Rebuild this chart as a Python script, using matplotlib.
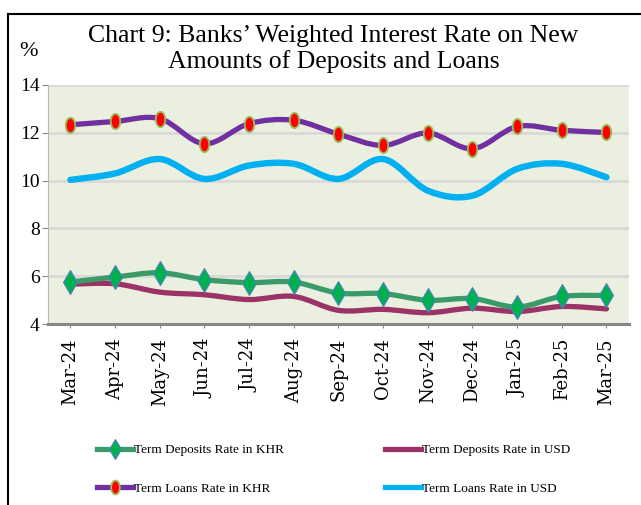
import numpy as np
import matplotlib
matplotlib.use('Agg')
import matplotlib.pyplot as plt
from matplotlib.path import Path
from matplotlib.patches import PathPatch
from matplotlib.lines import Line2D

plt.rcParams['font.family'] = ['Liberation Serif', 'DejaVu Serif']

months = ['Mar-24', 'Apr-24', 'May-24', 'Jun-24', 'Jul-24', 'Aug-24', 'Sep-24',
          'Oct-24', 'Nov-24', 'Dec-24', 'Jan-25', 'Feb-25', 'Mar-25']
dep_khr = [5.76, 5.97, 6.15, 5.86, 5.74, 5.76, 5.30, 5.28, 5.00, 5.07, 4.72, 5.16, 5.20]
dep_usd = [5.67, 5.69, 5.34, 5.23, 5.03, 5.16, 4.58, 4.62, 4.48, 4.67, 4.53, 4.74, 4.64]
loan_khr = [12.33, 12.47, 12.59, 11.54, 12.38, 12.52, 11.94, 11.47, 11.99, 11.33, 12.26, 12.10, 12.01]
loan_usd = [10.03, 10.30, 10.90, 10.07, 10.63, 10.70, 10.07, 10.90, 9.58, 9.37, 10.49, 10.70, 10.14]

C_DEP_KHR = '#3A9A68'
C_DEP_USD = '#9B3366'
C_LOAN_KHR = '#7030A0'
C_LOAN_USD = '#00B0F0'


def smooth_path(xs, ys):
    # Excel-like smoothed line: Catmull-Rom segments as cubic Bezier
    p = np.column_stack([xs, ys]).astype(float)
    ext = np.vstack([p[0], p, p[-1]])
    verts = [p[0]]
    codes = [Path.MOVETO]
    for i in range(len(p) - 1):
        p0, p1, p2, p3 = ext[i], ext[i + 1], ext[i + 2], ext[i + 3]
        c1 = p1 + (p2 - p0) / 6.0
        c2 = p2 - (p3 - p1) / 6.0
        verts += [c1, c2, p2]
        codes += [Path.CURVE4] * 3
    return Path(verts, codes)


fig = plt.figure(figsize=(6.41, 5.05), dpi=100)
ax = fig.add_axes([0.075, 0.358, 0.906, 0.474])
ax.set_facecolor('#EBEFDF')

x = np.arange(len(months))
series = [(loan_usd, C_LOAN_USD, 4.6), (loan_khr, C_LOAN_KHR, 3.8),
          (dep_usd, C_DEP_USD, 3.8), (dep_khr, C_DEP_KHR, 3.8)]
for ys, c, lw in series:
    ax.add_patch(PathPatch(smooth_path(x, ys), facecolor='none', edgecolor=c,
                           lw=lw, capstyle='round', joinstyle='round', zorder=3))

ellipse = Path(Path.unit_circle().vertices * np.array([0.62, 1.0]), Path.unit_circle().codes)
ax.plot(x, loan_khr, ls='none', marker=ellipse, ms=11, mfc='#FF0000',
        mec='#9BBB59', mew=1.3, zorder=4)
ax.plot(x, dep_khr, ls='none', marker='d', ms=12, mfc='#00B050',
        mec='#4F81BD', mew=0.8, zorder=4)

ax.set_xlim(-0.5, 12.5)
ax.set_ylim(4, 14)
ax.set_yticks([4, 6, 8, 10, 12, 14])
ax.set_xticks(x)
ax.set_xticklabels(months, rotation=90, fontsize=13, family='DejaVu Serif')
ax.tick_params(axis='y', labelsize=14, length=4, color='#888888', pad=2)
ax.tick_params(axis='x', length=3, color='#888888', pad=7)
ax.grid(axis='y', color='#D9D9D9', lw=2)
ax.set_axisbelow(True)
for s in ['top', 'right']:
    ax.spines[s].set_visible(False)
ax.spines['left'].set_color('#BBBBBB')
ax.spines['bottom'].set_color('#868686')
ax.spines['bottom'].set_linewidth(2.2)

fig.text(0.52, 0.903, 'Chart 9: Banks\u2019 Weighted Interest Rate on New\nAmounts of Deposits and Loans',
         ha='center', va='center', fontsize=18.5, linespacing=1.2)
fig.text(0.045, 0.898, '%', ha='center', va='center', fontsize=16)

# outer frame
fig.add_artist(Line2D([0.0125, 0.0125], [0, 0.972], color='black', lw=1.5))
fig.add_artist(Line2D([0.0125, 1.0], [0.972, 0.972], color='black', lw=1.5))

handles = [
    Line2D([], [], color=C_DEP_KHR, lw=3.8, marker='d', ms=10, mfc='#00B050', mec='#4F81BD', mew=0.8),
    Line2D([], [], color=C_LOAN_KHR, lw=3.8, marker=ellipse, ms=10, mfc='#FF0000', mec='#9BBB59', mew=1.3),
    Line2D([], [], color=C_DEP_USD, lw=3.8),
    Line2D([], [], color=C_LOAN_USD, lw=3.8),
]
labels = ['Term Deposits Rate in KHR', 'Term Loans Rate in KHR',
          'Term Deposits Rate in USD', 'Term Loans Rate in USD']
fig.legend(handles, labels, ncol=2, loc='upper left', bbox_to_anchor=(0.143, 0.131),
           frameon=False, fontsize=9.5, handlelength=2.7, handletextpad=0.1,
           labelspacing=2.0, columnspacing=7.7, borderaxespad=0)

fig.savefig('out.png', dpi=100)
